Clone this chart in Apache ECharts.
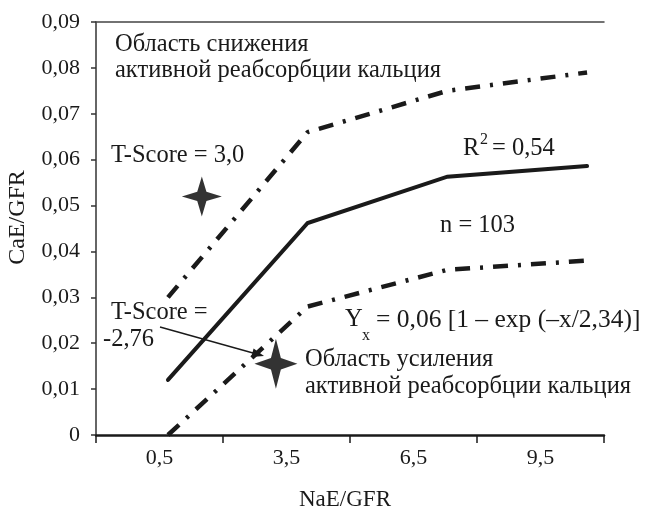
<!DOCTYPE html>
<html>
<head>
<meta charset="utf-8">
<script src="https://cdn.jsdelivr.net/npm/echarts@6/dist/echarts.min.js"></script>
<style>
html,body{margin:0;padding:0;background:#fff;}
#c{width:654px;height:508px;}
</style>
</head>
<body>
<div id="c"></div>
<script>
// ---- data ----
var xCategories = ['0,5', '3,5', '6,5', '9,5'];
var xPositions = [0.7, 4.0, 7.3, 10.6];          // NaE/GFR positions of the line vertices
var fitValues = [0.012, 0.0462, 0.0563, 0.0586];  // solid fitted curve
var upperValues = [0.030, 0.066, 0.075, 0.079];   // upper dash-dot bound
var lowerValues = [0.000, 0.028, 0.036, 0.038];   // lower dash-dot bound
var starPoints = [[1.5, 0.052], [3.25, 0.0155]];   // T-Score = 3,0 and T-Score = -2,76
var yTicks = [0, 0.01, 0.02, 0.03, 0.04, 0.05, 0.06, 0.07, 0.08, 0.09];

var FONT = '"Liberation Serif", "DejaVu Serif", serif';
var INK = '#1a1a1a';
var AF = 24.5; // annotation font size

function pairs(xs, ys) { return xs.map(function (x, i) { return [x, ys[i]]; }); }

var starPath = 'path://M0,-20 L4.6,-4.6 L20,0 L4.6,4.6 L0,20 L-4.6,4.6 L-20,0 L-4.6,-4.6 Z';

var chart = echarts.init(document.getElementById('c'), null, {renderer: 'canvas'});

function txt(x, y, s, size) {
  size = size || AF;
  return {type: 'text', left: x, top: y - size * 0.55, silent: true,
    style: {text: s, font: size + 'px ' + FONT, fill: INK}};
}

var option = {
  animation: false,
  backgroundColor: '#fff',
  grid: {left: 96, right: 50, top: 22, bottom: 73, containLabel: false, outerBoundsMode: 'none'},
  xAxis: [
    {
      type: 'category', data: xCategories, boundaryGap: true, position: 'bottom',
      name: 'NaE/GFR', nameLocation: 'middle', nameGap: 53,
      nameTextStyle: {fontFamily: FONT, fontSize: 23, color: INK, padding: [0, 10, 0, 0]},
      axisLine: {show: true, lineStyle: {color: INK, width: 2.5}},
      axisTick: {show: true, alignWithLabel: false, length: 8, lineStyle: {color: INK, width: 1.5}},
      axisLabel: {color: INK, fontFamily: FONT, fontSize: 22, margin: 12},
      splitLine: {show: false}
    },
    {
      type: 'value', min: -1, max: 11, position: 'top',
      axisLine: {show: true, onZero: false, lineStyle: {color: '#444', width: 1.5}},
      axisTick: {show: false}, axisLabel: {show: false}, splitLine: {show: false}
    }
  ],
  yAxis: {
    type: 'value', min: 0, max: 0.09, interval: 0.01,
    name: 'CaE/GFR', nameLocation: 'middle', nameGap: 66,
    nameTextStyle: {fontFamily: FONT, fontSize: 24, color: INK, padding: [0, 0, 0, 22]},
    axisLine: {show: true, onZero: false, lineStyle: {color: '#333', width: 1.5}},
    axisTick: {show: true, length: 5, lineStyle: {color: '#333', width: 1.5}},
    axisLabel: {color: INK, fontFamily: FONT, fontSize: 22, margin: 16,
      formatter: function (v) { return v === 0 ? '0' : v.toFixed(2).replace('.', ','); }},
    splitLine: {show: false}
  },
  series: [
    {
      type: 'line', xAxisIndex: 1, data: pairs(xPositions, fitValues), symbol: 'none',
      lineStyle: {color: INK, width: 4, cap: 'round', join: 'miter'}
    },
    {
      type: 'line', xAxisIndex: 1, data: pairs(xPositions, upperValues), symbol: 'none',
      lineStyle: {color: INK, width: 4.5, type: [15, 10, 3, 10], cap: 'butt'}
    },
    {
      type: 'line', xAxisIndex: 1, data: pairs(xPositions, lowerValues), symbol: 'none',
      lineStyle: {color: INK, width: 4.5, type: [15, 10, 3, 10], cap: 'butt'}
    },
    {
      type: 'scatter', xAxisIndex: 1, symbol: starPath,
      data: [
        {value: starPoints[0], symbolSize: [40, 40]},
        {value: starPoints[1], symbolSize: [43, 50]}
      ],
      itemStyle: {color: '#000'}
    }
  ],
  graphic: [
    txt(115, 46, 'Область снижения'),
    txt(115, 72, 'активной реабсорбции кальция'),
    txt(111, 157, 'T-Score = 3,0'),
    txt(463, 150, 'R'),
    txt(480, 141, '2', 16),
    txt(492, 150, '= 0,54'),
    txt(440, 227, 'n = 103'),
    txt(111, 314, 'T-Score ='),
    txt(103, 341, '-2,76'),
    txt(345, 321, 'Y'),
    txt(362, 337, 'x', 16),
    txt(376, 321, '= 0,06 [1 – exp (–x/2,34)]', 25.5),
    txt(305, 361, 'Область усиления'),
    txt(305, 388, 'активной реабсорбции кальция'),
    {type: 'line', silent: true, shape: {x1: 160, y1: 327, x2: 253, y2: 353},
      style: {stroke: INK, lineWidth: 1.3}},
    {type: 'polygon', silent: true,
      shape: {points: [[264, 356], [251.2, 357.1], [253.6, 348.5]]},
      style: {fill: INK}}
  ]
};
chart.setOption(option);
</script>
</body>
</html>
